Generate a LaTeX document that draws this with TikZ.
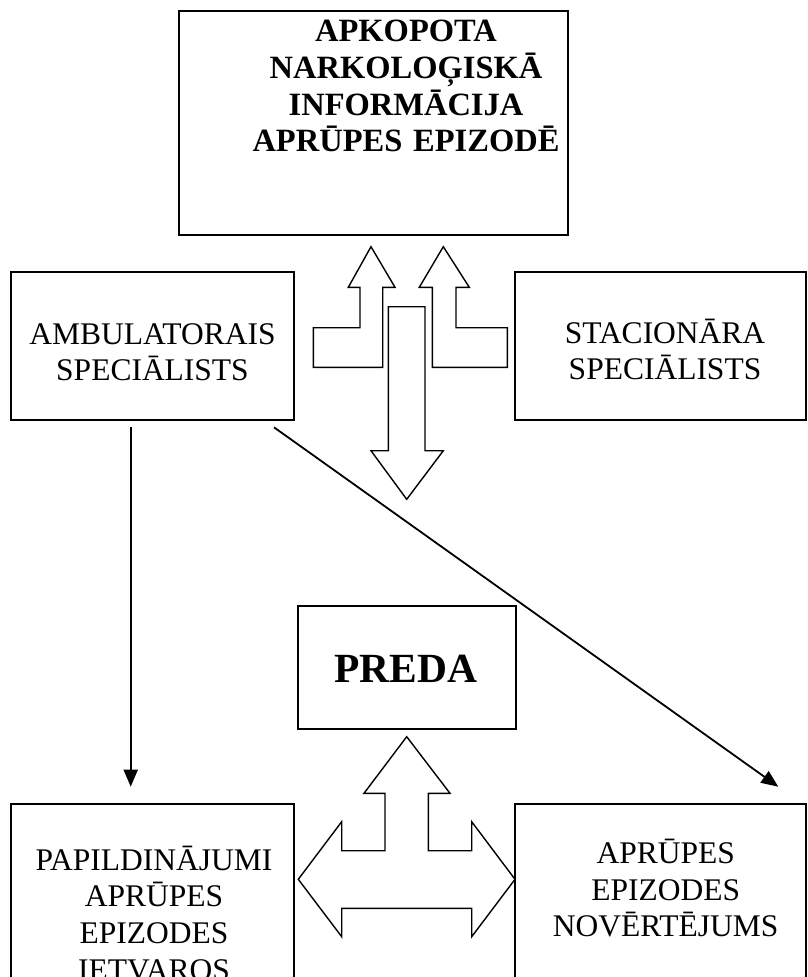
\documentclass[tikz,border=0pt]{standalone}
\usepackage{fontspec}
\setmainfont{Liberation Serif}
\usetikzlibrary{arrows.meta}
\begin{document}
\begin{tikzpicture}[x=1pt,y=-1pt,
  box/.style={draw,line width=1.8pt,inner sep=0pt,rectangle},
  lbl/.style={inner sep=0pt,anchor=base,text width=300pt,align=center,
    font=\fontsize{31.5}{36.7}\selectfont},
  blbl/.style={inner sep=0pt,anchor=base,text width=380pt,align=center,
    font=\fontsize{32.5}{36.7}\selectfont\bfseries},
  blockarrow/.style={draw,line width=1.4pt,fill=white,line join=miter},
  conn/.style={line width=1.8pt,-{Triangle[length=17pt,width=14pt]}}]
\useasboundingbox (0,0) rectangle (808,977);
\clip (0,0) rectangle (808,977);
% boxes
\node[box,minimum width=389pt,minimum height=224pt] (info) at (373.5,123) {};
\node[box,minimum width=283pt,minimum height=148pt] (amb) at (152.5,346) {};
\node[box,minimum width=291pt,minimum height=148pt] (stac) at (660.5,346) {};
\node[box,minimum width=218pt,minimum height=123pt] (preda) at (407,667.5) {};
\node[box,minimum width=283pt,minimum height=300pt] (papild) at (152.5,954) {};
\node[box,minimum width=291pt,minimum height=300pt] (aprupes) at (660.5,954) {};
% texts
\node[blbl] (infotext) at (406,41.7) {APKOPOTA\\NARKOLOĢISKĀ\\INFORMĀCIJA\\APRŪPES EPIZODĒ};
\node[lbl] (ambtext) at (152.5,344) {AMBULATORAIS\\SPECIĀLISTS};
\node[lbl] (stactext) at (665,343) {STACIONĀRA\\SPECIĀLISTS};
\node[inner sep=0pt,anchor=base,font=\fontsize{41.5}{48}\selectfont\bfseries] (predatext) at (406,682) {PREDA};
\node[lbl] (papildtext) at (154,870) {PAPILDINĀJUMI\\APRŪPES\\EPIZODES\\IETVAROS};
\node[lbl] (aprupestext) at (665.7,863.3) {APRŪPES\\EPIZODES\\NOVĒRTĒJUMS};
% block arrows (top)
\draw[blockarrow] (313.3,327.7) -- (360,327.7) -- (360,287.3) -- (348.3,287.3) -- (371,246.7)
  -- (395,287.3) -- (382.7,287.3) -- (382.7,367.3) -- (313.3,367.3) -- cycle;
\draw[blockarrow] (432.3,367.3) -- (432.3,287.3) -- (419.3,287.3) -- (443.3,246.7) -- (469.3,287.3)
  -- (456,287.3) -- (456,327.7) -- (507.3,327.7) -- (507.3,367.3) -- cycle;
\draw[blockarrow] (388.3,306.7) -- (425,306.7) -- (425,450.7) -- (443.3,450.7) -- (406.7,499.3)
  -- (371,450.7) -- (388.3,450.7) -- cycle;
% block arrow (bottom)
\draw[blockarrow] (298.3,879.3) -- (341.7,821.7) -- (341.7,850.7) -- (385,850.7) -- (385,793.3)
  -- (364,793.3) -- (406.7,736.7) -- (450,793.3) -- (428.3,793.3) -- (428.3,850.7)
  -- (471.7,850.7) -- (471.7,821.7) -- (515,879.3) -- (471.7,936.7) -- (471.7,908.3)
  -- (341.7,908.3) -- (341.7,936.7) -- cycle;
% connectors
\coordinate (ambout1) at (130.7,427);
\coordinate (papildin) at (130.7,786.7);
\coordinate (ambout2) at (274,427.3);
\coordinate (aprupesin) at (778.3,786.7);
\draw[conn] (ambout1) -- (papildin);
\draw[conn] (ambout2) -- (aprupesin);
\end{tikzpicture}
\end{document}
